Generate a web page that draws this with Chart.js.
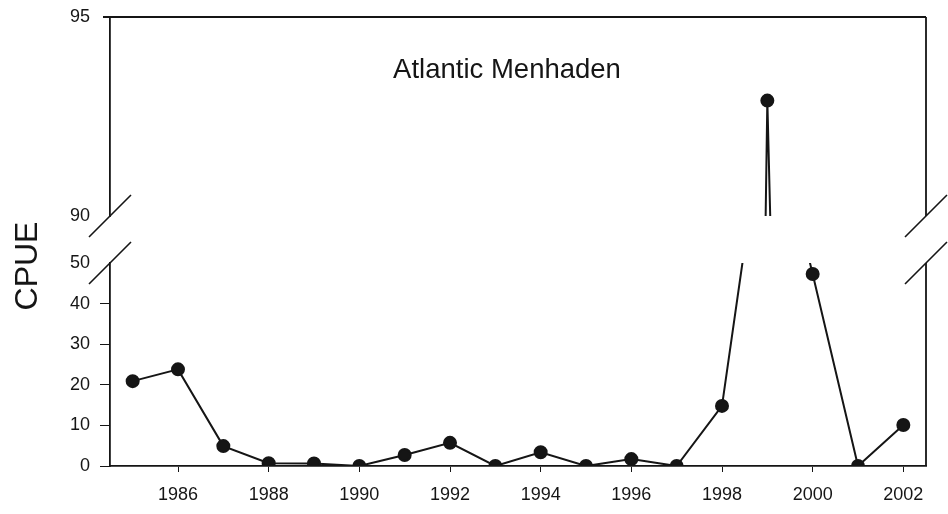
<!DOCTYPE html>
<html>
<head>
<meta charset="utf-8">
<script src="https://cdn.jsdelivr.net/npm/chart.js@4"></script>
<style>
  html, body { margin: 0; padding: 0; background: #fff; }
  #wrap { width: 948px; height: 514px; }
</style>
</head>
<body>
<div id="wrap"><canvas id="cpueChart" width="948" height="514"></canvas></div>
<script>
// ===== DATA =====
const years = [1985, 1986, 1987, 1988, 1989, 1990, 1991, 1992, 1993,
               1994, 1995, 1996, 1997, 1998, 1999, 2000, 2001, 2002];
const cpue = [20.9, 23.8, 4.9, 0.7, 0.6, 0, 2.7, 5.7, 0,
              3.4, 0, 1.7, 0, 14.8, 92.9, 47.3, 0, 10.1];
const xTicks = [1986, 1988, 1990, 1992, 1994, 1996, 1998, 2000, 2002];
const lowTicks = [0, 10, 20, 30, 40, 50];
const highTicks = [90, 95];
const title = "Atlantic Menhaden";
const yTitle = "CPUE";

const points = years.map((y, i) => ({ x: y, y: cpue[i] }));
const FONT = "Arial, 'Liberation Sans', sans-serif";
const INK = "#151515";

// ===== PLUGINS =====
// clip each copy of the series to its own y panel
const panelClip = {
  id: "panelClip",
  beforeDatasetDraw(chart, args) {
    const ys = chart.scales[args.meta.yAxisID];
    const a = chart.chartArea;
    chart.ctx.save();
    chart.ctx.beginPath();
    chart.ctx.rect(a.left - 10, ys.top, a.right - a.left + 20, ys.bottom - ys.top);
    chart.ctx.clip();
  },
  afterDatasetDraw(chart) {
    chart.ctx.restore();
  }
};

// frame, break marks, title and axis label
const decor = {
  id: "decor",
  afterDraw(chart) {
    const ctx = chart.ctx;
    const a = chart.chartArea;
    const hi = chart.scales.yHigh;
    const lo = chart.scales.yLow;

    ctx.save();
    ctx.strokeStyle = INK;
    ctx.lineWidth = 1.8;
    ctx.beginPath();
    // top edge of upper panel
    ctx.moveTo(a.left - 7, hi.top);
    ctx.lineTo(a.right, hi.top);
    // right edges
    ctx.moveTo(a.right, hi.top);
    ctx.lineTo(a.right, hi.bottom);
    ctx.moveTo(a.right, lo.top);
    ctx.lineTo(a.right, lo.bottom);
    ctx.stroke();

    // break marks
    const d = 21;
    ctx.lineWidth = 1.6;
    ctx.beginPath();
    [a.left, a.right].forEach(x => {
      [hi.bottom, lo.top].forEach(y => {
        ctx.moveTo(x - d, y + d);
        ctx.lineTo(x + d, y - d);
      });
    });
    ctx.stroke();

    ctx.fillStyle = INK;
    ctx.textAlign = "center";
    ctx.textBaseline = "middle";
    ctx.font = "27.5px " + FONT;
    ctx.fillText(title, 507, 70);

    ctx.translate(28, 266);
    ctx.rotate(-Math.PI / 2);
    ctx.font = "32px " + FONT;
    ctx.fillText(yTitle, 0, 0);
    ctx.restore();
  }
};

// ===== CHART =====
const ctx = document.getElementById("cpueChart").getContext("2d");

const series = {
  data: points,
  borderColor: INK,
  borderWidth: 2,
  backgroundColor: INK,
  pointRadius: 6,
  pointBackgroundColor: INK,
  pointBorderColor: INK,
  tension: 0
};

const tickFont = { family: FONT, size: 18 };

function fixY(s) {
  s.width = 110;
  s.paddingTop = 0;
  s.paddingBottom = 0;
}

new Chart(ctx, {
  type: "line",
  data: {
    datasets: [
      Object.assign({ yAxisID: "yLow" }, series),
      Object.assign({ yAxisID: "yHigh" }, series)
    ]
  },
  options: {
    responsive: false,
    animation: false,
    events: [],
    layout: { padding: { top: 17, right: 22, left: 0, bottom: 0 } },
    plugins: {
      legend: { display: false },
      tooltip: { enabled: false }
    },
    scales: {
      x: {
        type: "linear",
        min: 1984.5,
        max: 2002.5,
        afterBuildTicks: s => { s.ticks = xTicks.map(v => ({ value: v })); },
        afterFit: s => { s.height = 48; },
        border: { display: true, color: INK, width: 1.8 },
        grid: { drawOnChartArea: false, color: INK, tickLength: 6 },
        ticks: { color: INK, font: tickFont, padding: 12, maxRotation: 0, autoSkip: false, callback: v => String(v) }
      },
      yLow: {
        type: "linear",
        position: "left",
        stack: "cpue",
        stackWeight: 203,
        min: 0,
        max: 50,
        afterBuildTicks: s => { s.ticks = lowTicks.map(v => ({ value: v })); },
        afterFit: fixY,
        border: { display: true, color: INK, width: 1.8 },
        grid: {
          drawOnChartArea: false,
          tickLength: 10,
          color: c => (c.tick && c.tick.value === 50 ? "rgba(0,0,0,0)" : INK)
        },
        ticks: { color: INK, font: tickFont, padding: 10, autoSkip: false }
      },
      yGap: {
        type: "linear",
        position: "left",
        stack: "cpue",
        stackWeight: 47,
        min: 0,
        max: 1,
        afterFit: fixY,
        border: { display: false },
        grid: { display: false },
        ticks: { display: false }
      },
      yHigh: {
        type: "linear",
        position: "left",
        stack: "cpue",
        stackWeight: 199,
        min: 90,
        max: 95,
        afterBuildTicks: s => { s.ticks = highTicks.map(v => ({ value: v })); },
        afterFit: fixY,
        border: { display: true, color: INK, width: 1.8 },
        grid: {
          drawOnChartArea: false,
          tickLength: 7,
          color: c => (c.tick && c.tick.value === 95 ? INK : "rgba(0,0,0,0)")
        },
        ticks: { color: INK, font: tickFont, padding: 13, autoSkip: false }
      }
    }
  },
  plugins: [panelClip, decor]
});
</script>
</body>
</html>
